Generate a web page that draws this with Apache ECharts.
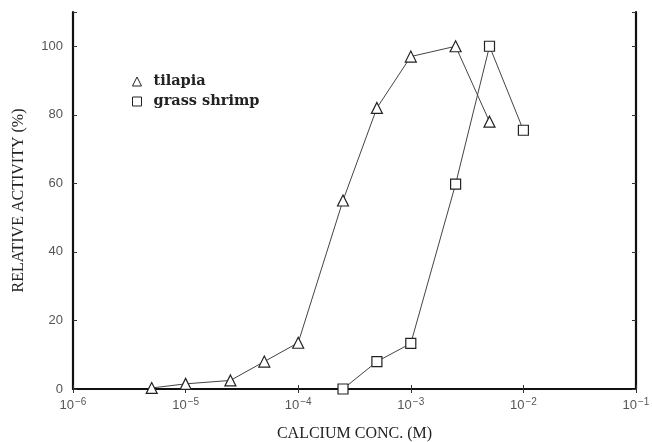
<!DOCTYPE html>
<html><head><meta charset="utf-8">
<script src="https://cdn.jsdelivr.net/npm/echarts@6/dist/echarts.min.js"></script>
<style>html,body{margin:0;padding:0;background:#fff}#c{width:652px;height:442px}</style>
</head><body><div id="c"></div>
<script>
const tilapiaX = [5e-6, 1e-5, 2.5e-5, 5e-5, 1e-4, 2.5e-4, 5e-4, 1e-3, 2.5e-3, 5e-3];
const tilapiaY = [0.3, 1.5, 2.5, 8, 13.5, 55, 82, 97, 100, 78];
const shrimpX = [2.5e-4, 5e-4, 1e-3, 2.5e-3, 5e-3, 1e-2];
const shrimpY = [0, 8, 13.3, 59.8, 100, 75.5];
const yTicks = [0, 20, 40, 60, 80, 100];

const chart = echarts.init(document.getElementById('c'));
const pair = (xs, ys) => xs.map((x, i) => [x, ys[i]]);
const axisLineStyle = {color: '#111', width: 2.2};
const labelColor = '#555';
chart.setOption({
  animation: false,
  grid: {left: 73, right: 16, top: 12, bottom: 53, outerBoundsMode: 'none', containLabel: false},
  legend: {
    orient: 'vertical', left: 127, top: 69, itemGap: 5,
    itemWidth: 9, itemHeight: 9,
    itemStyle: {color: '#fff', borderColor: '#222', borderWidth: 1},
    textStyle: {fontFamily: 'DejaVu Serif', fontSize: 14.5, color: '#222', fontWeight: 'bold', padding: [0, 0, 0, 7]},
    data: [{name: 'tilapia', icon: 'triangle'}, {name: 'grass shrimp', icon: 'rect'}]
  },
  xAxis: [{
    type: 'log', logBase: 10, min: 1e-6, max: 1e-1,
    name: 'CALCIUM CONC. (M)', nameLocation: 'middle', nameGap: 37,
    nameTextStyle: {fontFamily: 'Liberation Serif', fontSize: 16, color: '#222'},
    axisLine: {lineStyle: axisLineStyle},
    axisTick: {inside: true, length: 4, lineStyle: {color: '#333'}},
    minorTick: {show: false},
    splitLine: {show: false},
    axisLabel: {
      margin: 8, color: labelColor,
      formatter: v => '{b|10}{s|' + String(Math.round(Math.log10(v))).replace('-', '\u2212') + '}',
      rich: {
        b: {fontFamily: 'Liberation Sans', fontSize: 13, color: labelColor},
        s: {fontFamily: 'Liberation Sans', fontSize: 10, color: labelColor, verticalAlign: 'top', padding: [0, 0, 7, 1]}
      }
    }
  }, {
    type: 'log', logBase: 10, min: 1e-6, max: 1e-1, position: 'top',
    axisLine: {lineStyle: axisLineStyle},
    axisTick: {inside: true, length: 4, lineStyle: {color: '#333'}},
    axisLabel: {show: false}, splitLine: {show: false}
  }],
  yAxis: [{
    type: 'value', min: 0, max: 110, interval: 20,
    name: 'RELATIVE ACTIVITY (%)', nameLocation: 'middle', nameGap: 46, nameRotate: 90,
    nameTextStyle: {fontFamily: 'Liberation Serif', fontSize: 16, color: '#222'},
    axisLine: {show: true, lineStyle: axisLineStyle},
    axisTick: {show: true, inside: true, length: 4, lineStyle: {color: '#333'}},
    splitLine: {show: false},
    axisLabel: {
      margin: 10, color: labelColor, fontFamily: 'Liberation Sans', fontSize: 13,
      formatter: v => yTicks.includes(v) ? String(v) : ''
    }
  }, {
    type: 'value', min: 0, max: 110, interval: 20, position: 'right',
    axisLine: {show: true, lineStyle: axisLineStyle},
    axisTick: {show: true, inside: true, length: 4, lineStyle: {color: '#333'}},
    axisLabel: {show: false}, splitLine: {show: false}
  }],
  series: [{
    name: 'tilapia', type: 'line', data: pair(tilapiaX, tilapiaY),
    symbol: 'triangle', symbolSize: 11,
    lineStyle: {color: '#444', width: 1},
    itemStyle: {color: '#fff', borderColor: '#222', borderWidth: 1.2}
  }, {
    name: 'grass shrimp', type: 'line', data: pair(shrimpX, shrimpY),
    symbol: 'rect', symbolSize: 10,
    lineStyle: {color: '#444', width: 1},
    itemStyle: {color: '#fff', borderColor: '#222', borderWidth: 1.2}
  }]
});
</script></body></html>
